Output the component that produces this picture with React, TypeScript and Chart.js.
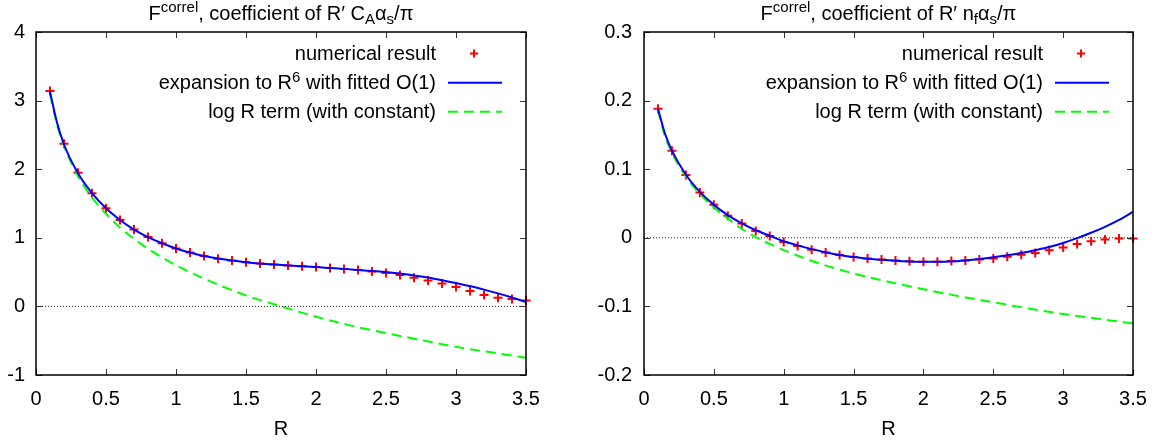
import React, { useEffect, useRef } from "react";
import { Chart, registerables } from "chart.js";

Chart.register(...registerables);

// ---------- data ----------
const X_TICKS = [0, 0.5, 1, 1.5, 2, 2.5, 3, 3.5];
const X_TICK_LABELS = ["0", "0.5", "1", "1.5", "2", "2.5", "3", "3.5"];

const CA_Y_TICKS = [-1, 0, 1, 2, 3, 4];
const CA_Y_TICK_LABELS = ["-1", "0", "1", "2", "3", "4"];
const NF_Y_TICKS = [-0.2, -0.1, 0, 0.1, 0.2, 0.3];
const NF_Y_TICK_LABELS = ["-0.2", "-0.1", "0", "0.1", "0.2", "0.3"];

const R_POINTS = [
  0.1, 0.2, 0.3, 0.4, 0.5, 0.6, 0.7, 0.8, 0.9, 1.0, 1.1, 1.2, 1.3, 1.4, 1.5, 1.6, 1.7, 1.8,
  1.9, 2.0, 2.1, 2.2, 2.3, 2.4, 2.5, 2.6, 2.7, 2.8, 2.9, 3.0, 3.1, 3.2, 3.3, 3.4, 3.5,
];
const CA_NUMERICAL = [
  3.14, 2.37, 1.95, 1.65, 1.43, 1.26, 1.12, 1.01, 0.92, 0.845, 0.787, 0.735, 0.695, 0.668,
  0.642, 0.625, 0.61, 0.595, 0.585, 0.573, 0.559, 0.544, 0.53, 0.51, 0.486, 0.457, 0.418,
  0.379, 0.335, 0.282, 0.224, 0.165, 0.126, 0.107, 0.087,
];
const NF_NUMERICAL = [
  0.188, 0.127, 0.0915, 0.066, 0.048, 0.032, 0.021, 0.01, 0.0025, -0.006, -0.012, -0.0175,
  -0.0215, -0.025, -0.028, -0.03, -0.0318, -0.033, -0.0342, -0.035, -0.035, -0.034, -0.033,
  -0.0315, -0.03, -0.0277, -0.0248, -0.022, -0.018, -0.014, -0.0092, -0.005, -0.0025, -0.001,
  -0.001,
];

const R_EXPANSION = [
  0.1, 0.15, 0.2, 0.3, 0.4, 0.5, 0.6, 0.7, 0.8, 0.9, 1.0, 1.1, 1.2, 1.3, 1.4, 1.5, 1.6, 1.7,
  1.8, 1.9, 2.0, 2.1, 2.2, 2.3, 2.4, 2.5, 2.6, 2.7, 2.8, 2.9, 3.0, 3.1, 3.2, 3.3, 3.4, 3.5,
];
const CA_EXPANSION = [
  3.13, 2.68, 2.36, 1.94, 1.65, 1.43, 1.26, 1.12, 1.01, 0.92, 0.845, 0.785, 0.735, 0.697,
  0.668, 0.643, 0.626, 0.61, 0.597, 0.585, 0.573, 0.56, 0.547, 0.532, 0.516, 0.5, 0.478,
  0.452, 0.42, 0.382, 0.34, 0.296, 0.245, 0.19, 0.13, 0.065,
];
const NF_EXPANSION = [
  0.188, 0.152, 0.127, 0.092, 0.067, 0.048, 0.033, 0.021, 0.011, 0.003, -0.005, -0.011,
  -0.0165, -0.021, -0.025, -0.028, -0.0305, -0.032, -0.0335, -0.0345, -0.035, -0.035,
  -0.0345, -0.033, -0.031, -0.0285, -0.0255, -0.022, -0.018, -0.0135, -0.0075, -0.0005,
  0.0073, 0.016, 0.026, 0.038,
];

const R_LOG = [
  0.1, 0.15, 0.2, 0.3, 0.4, 0.5, 0.6, 0.7, 0.8, 0.9, 1.0, 1.25, 1.5, 1.75, 2.0, 2.25, 2.5,
  2.75, 3.0, 3.25, 3.5,
];
const CA_LOG = [
  3.09, 2.65, 2.34, 1.9, 1.59, 1.35, 1.15, 0.985, 0.84, 0.714, 0.6, 0.36, 0.16, 0.0, -0.15,
  -0.28, -0.39, -0.49, -0.59, -0.67, -0.75,
];
const NF_LOG = [
  0.186, 0.148, 0.124, 0.089, 0.064, 0.044, 0.028, 0.013, 0.001, -0.009, -0.018, -0.037,
  -0.052, -0.064, -0.075, -0.085, -0.094, -0.103, -0.111, -0.118, -0.125,
];

const ZERO_LINE_X = [0, 3.5];
const ZERO_LINE_Y = [0, 0];

// ---------- styling ----------
const FONT_FAMILY = "'Liberation Sans', Arial, Helvetica, sans-serif";
const FONT_SIZE = 20;

type Seg = { t: string; k?: "sup" | "sub" };

const LEGEND_ROWS: Seg[][] = [
  [{ t: "numerical result" }],
  [{ t: "expansion to R" }, { t: "6", k: "sup" }, { t: " with fitted O(1)" }],
  [{ t: "log R term (with constant)" }],
];

const CA_TITLE: Seg[] = [
  { t: "F" },
  { t: "correl", k: "sup" },
  { t: ", coefficient of R\u2032 C" },
  { t: "A", k: "sub" },
  { t: "\u03b1" },
  { t: "s", k: "sub" },
  { t: "/\u03c0" },
];
const NF_TITLE: Seg[] = [
  { t: "F" },
  { t: "correl", k: "sup" },
  { t: ", coefficient of R\u2032 n" },
  { t: "f", k: "sub" },
  { t: "\u03b1" },
  { t: "s", k: "sub" },
  { t: "/\u03c0" },
];

function drawRich(
  ctx: CanvasRenderingContext2D,
  segs: Seg[],
  x: number,
  y: number,
  align: "center" | "right",
  size: number
) {
  const small = size * 0.75;
  const widths = segs.map((s) => {
    ctx.font = `${s.k ? small : size}px ${FONT_FAMILY}`;
    return ctx.measureText(s.t).width;
  });
  const total = widths.reduce((a, b) => a + b, 0);
  let cx = align === "center" ? x - total / 2 : x - total;
  ctx.textAlign = "left";
  ctx.textBaseline = "alphabetic";
  ctx.fillStyle = "#000";
  segs.forEach((s, i) => {
    ctx.font = `${s.k ? small : size}px ${FONT_FAMILY}`;
    const dy = s.k === "sup" ? -size * 0.36 : s.k === "sub" ? size * 0.22 : 0;
    ctx.fillText(s.t, cx, y + dy);
    cx += widths[i];
  });
}

const toXY = (xs: number[], ys: number[]) => xs.map((x, i) => ({ x, y: ys[i] }));

type Panel = {
  title: Seg[];
  yTicks: number[];
  yLabels: string[];
  yMin: number;
  yMax: number;
  numerical: number[];
  expansion: number[];
  logTerm: number[];
  yAxisWidth: number;
  rightPad: number;
  yLabelPad: number;
};

const framePlugin = {
  id: "gnuplotFrame",
  afterDatasetsDraw(chart: any) {
    const { ctx, chartArea: a, scales } = chart;
    ctx.save();
    ctx.strokeStyle = "#333";
    ctx.lineWidth = 1;
    const tl = 6;
    ctx.beginPath();
    scales.x.ticks.forEach((t: any) => {
      const px = Math.round(scales.x.getPixelForValue(t.value)) + 0.5;
      ctx.moveTo(px, a.bottom);
      ctx.lineTo(px, a.bottom - tl);
      ctx.moveTo(px, a.top);
      ctx.lineTo(px, a.top + tl);
    });
    scales.y.ticks.forEach((t: any) => {
      const py = Math.round(scales.y.getPixelForValue(t.value)) + 0.5;
      ctx.moveTo(a.left, py);
      ctx.lineTo(a.left + tl, py);
      ctx.moveTo(a.right, py);
      ctx.lineTo(a.right - tl, py);
    });
    ctx.stroke();
    ctx.strokeStyle = "#000";
    ctx.lineWidth = 1.5;
    ctx.strokeRect(a.left, a.top, a.right - a.left, a.bottom - a.top);
    ctx.restore();
  },
};

function makeOverlayPlugin(title: Seg[]) {
  return {
    id: "gnuplotOverlay",
    afterDraw(chart: any) {
      const { ctx, chartArea: a } = chart;
      ctx.save();
      drawRich(ctx, title, (a.left + a.right) / 2, 19.5, "center", FONT_SIZE);
      const rowsY = [53.5, 82.7, 111.7];
      const textRight = a.right - 90;
      LEGEND_ROWS.forEach((segs, i) => {
        drawRich(ctx, segs, textRight, rowsY[i] + 6.5, "right", FONT_SIZE);
      });
      // samples
      const sx0 = a.right - 78;
      const sx1 = a.right - 24;
      const cxp = a.right - 52;
      ctx.strokeStyle = "#ff0000";
      ctx.lineWidth = 2;
      ctx.beginPath();
      ctx.moveTo(cxp - 4, rowsY[0]);
      ctx.lineTo(cxp + 4, rowsY[0]);
      ctx.moveTo(cxp, rowsY[0] - 4);
      ctx.lineTo(cxp, rowsY[0] + 4);
      ctx.stroke();
      ctx.strokeStyle = "#0000ff";
      ctx.beginPath();
      ctx.moveTo(sx0, rowsY[1]);
      ctx.lineTo(sx1, rowsY[1]);
      ctx.stroke();
      ctx.strokeStyle = "#00ff00";
      ctx.setLineDash([10, 6]);
      ctx.beginPath();
      ctx.moveTo(sx0, rowsY[2]);
      ctx.lineTo(sx1, rowsY[2]);
      ctx.stroke();
      ctx.restore();
    },
  };
}

function makeConfig(p: Panel): any {
  const font = { family: FONT_FAMILY, size: FONT_SIZE };
  return {
    type: "line",
    data: {
      datasets: [
        {
          label: "expansion to R^6 with fitted O(1)",
          data: toXY(R_EXPANSION, p.expansion),
          borderColor: "#0000ff",
          borderWidth: 2,
          pointRadius: 0,
          cubicInterpolationMode: "monotone",
          order: 0,
        },
        {
          label: "log R term (with constant)",
          data: toXY(R_LOG, p.logTerm),
          borderColor: "#00ff00",
          borderWidth: 2,
          borderDash: [10, 6],
          pointRadius: 0,
          cubicInterpolationMode: "monotone",
          order: 1,
        },
        {
          label: "numerical result",
          data: toXY(R_POINTS, p.numerical),
          showLine: false,
          pointStyle: "cross",
          pointRadius: 4.5,
          pointBorderWidth: 2,
          pointBorderColor: "#ff0000",
          borderColor: "#ff0000",
          clip: false,
          order: 2,
        },
        {
          label: "zero",
          data: toXY(ZERO_LINE_X, ZERO_LINE_Y),
          borderColor: "#222",
          borderWidth: 1,
          borderDash: [1, 2],
          pointRadius: 0,
          order: 3,
        },
      ],
    },
    options: {
      animation: false,
      responsive: false,
      devicePixelRatio: 1,
      events: [],
      layout: { padding: { left: 0, top: 32, right: p.rightPad, bottom: 0 } },
      plugins: {
        legend: { display: false },
        tooltip: { enabled: false },
        title: { display: false },
      },
      scales: {
        x: {
          type: "linear",
          min: 0,
          max: 3.5,
          afterBuildTicks: (s: any) => {
            s.ticks = X_TICKS.map((v) => ({ value: v }));
          },
          afterFit: (s: any) => {
            s.height = 66;
          },
          grid: { display: false, drawTicks: false },
          border: { display: false },
          ticks: {
            font,
            color: "#000",
            padding: 12,
            maxRotation: 0,
            autoSkip: false,
            callback: (_v: any, i: number) => X_TICK_LABELS[i],
          },
          title: { display: true, text: "R", font, color: "#000", padding: 0 },
        },
        y: {
          type: "linear",
          min: p.yMin,
          max: p.yMax,
          afterBuildTicks: (s: any) => {
            s.ticks = p.yTicks.map((v) => ({ value: v }));
          },
          afterFit: (s: any) => {
            s.width = p.yAxisWidth;
          },
          grid: { display: false, drawTicks: false },
          border: { display: false },
          ticks: {
            font,
            color: "#000",
            padding: p.yLabelPad,
            autoSkip: false,
            callback: (_v: any, i: number) => p.yLabels[i],
          },
        },
      },
    },
    plugins: [framePlugin, makeOverlayPlugin(p.title)],
  };
}

const CA_PANEL: Panel = {
  title: CA_TITLE,
  yTicks: CA_Y_TICKS,
  yLabels: CA_Y_TICK_LABELS,
  yMin: -1,
  yMax: 4,
  numerical: CA_NUMERICAL,
  expansion: CA_EXPANSION,
  logTerm: CA_LOG,
  yAxisWidth: 36,
  rightPad: 55,
  yLabelPad: 11,
};

const NF_PANEL: Panel = {
  title: NF_TITLE,
  yTicks: NF_Y_TICKS,
  yLabels: NF_Y_TICK_LABELS,
  yMin: -0.2,
  yMax: 0.3,
  numerical: NF_NUMERICAL,
  expansion: NF_EXPANSION,
  logTerm: NF_LOG,
  yAxisWidth: 63,
  rightPad: 30,
  yLabelPad: 12,
};

export default function App() {
  const leftRef = useRef<HTMLCanvasElement>(null);
  const rightRef = useRef<HTMLCanvasElement>(null);

  useEffect(() => {
    const c1 = new Chart(leftRef.current as HTMLCanvasElement, makeConfig(CA_PANEL));
    const c2 = new Chart(rightRef.current as HTMLCanvasElement, makeConfig(NF_PANEL));
    return () => {
      c1.destroy();
      c2.destroy();
    };
  }, []);

  return (
    <div
      style={{
        position: "absolute",
        left: 0,
        top: 0,
        width: 1163,
        height: 441,
        background: "#fff",
      }}
    >
      <canvas
        ref={leftRef}
        width={581}
        height={441}
        style={{ position: "absolute", left: 0, top: 0, width: 581, height: 441 }}
      />
      <canvas
        ref={rightRef}
        width={582}
        height={441}
        style={{ position: "absolute", left: 581, top: 0, width: 582, height: 441 }}
      />
    </div>
  );
}
